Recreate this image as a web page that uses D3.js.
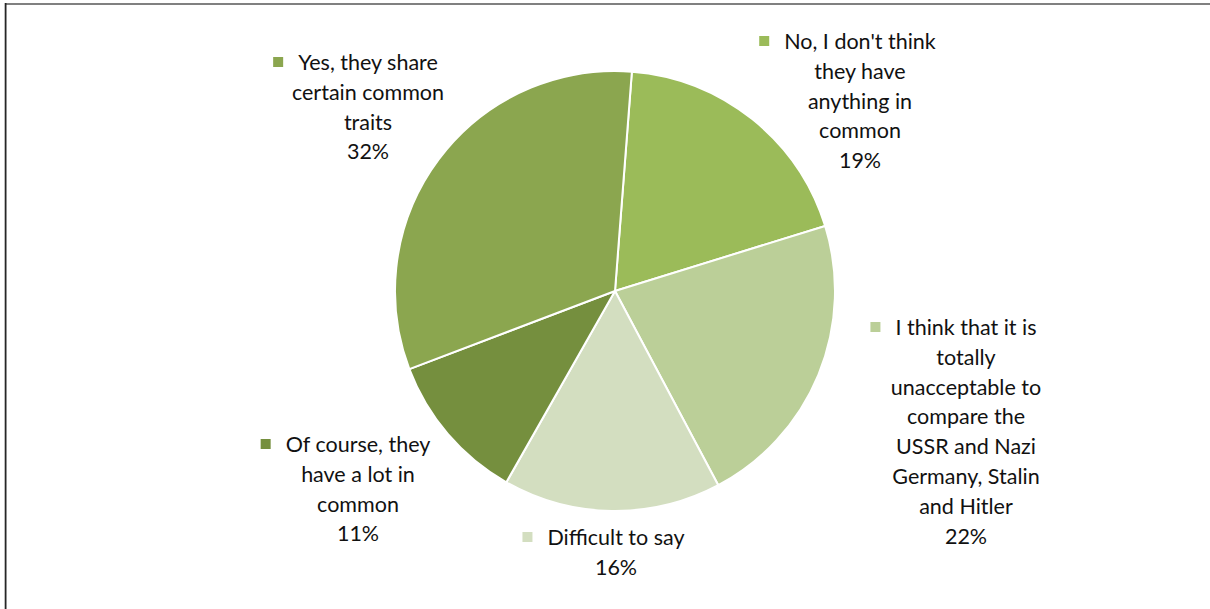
<!DOCTYPE html>
<html>
<head>
<meta charset="utf-8">
<script src="https://cdn.jsdelivr.net/npm/d3@7"></script>
<style>
  html, body { margin: 0; padding: 0; background: #fff; }
  svg { display: block; }
  text { font-family: "Lato", "Open Sans", sans-serif; fill: #111; }
</style>
</head>
<body>
<svg id="chart" width="1210" height="609"></svg>
<script>
// Survey answers, clockwise from the top of the pie
const categories = [
  "No, I don't think they have anything in common",
  "I think that it is totally unacceptable to compare the USSR and Nazi Germany, Stalin and Hitler",
  "Difficult to say",
  "Of course, they have a lot in common",
  "Yes, they share certain common traits"
];
const values = [19, 22, 16, 11, 32];
const labelLines = [
  ["No, I don't think", "they have", "anything in", "common"],
  ["I think that it is", "totally", "unacceptable to", "compare the", "USSR and Nazi", "Germany, Stalin", "and Hitler"],
  ["Difficult to say"],
  ["Of course, they", "have a lot in", "common"],
  ["Yes, they share", "certain common", "traits"]
];
const colors = ["#9bbb59", "#bbcf98", "#d3dec0", "#758f3e", "#8ba64f"];

// Label block placement: centre x and first baseline
const labelAnchor = [
  { x: 860, y: 49 },
  { x: 966, y: 335 },
  { x: 616, y: 545 },
  { x: 358, y: 452 },
  { x: 368, y: 70 }
];

const svg = d3.select("#chart");
const W = 1210, H = 609;
const cx = 615, cy = 291, R = 220;
const lineH = 29.8;

// chart frame (top and left edges)
svg.append("rect").attr("x", 4).attr("y", 3).attr("width", W - 4).attr("height", 2).attr("fill", "#808080");
svg.append("rect").attr("x", 4).attr("y", 3).attr("width", 1).attr("height", H - 3).attr("fill", "#bdbdbd");
svg.append("rect").attr("x", 5).attr("y", 3).attr("width", 1.5).attr("height", H - 3).attr("fill", "#262626");

const pie = d3.pie()
  .value(d => d)
  .sort(null)
  .startAngle(4.4 * Math.PI / 180)
  .endAngle((4.4 + 360) * Math.PI / 180);
const arc = d3.arc().innerRadius(0).outerRadius(R);
const arcs = pie(values);

const g = svg.append("g").attr("transform", `translate(${cx},${cy})`);
g.selectAll("path.slice")
  .data(arcs)
  .join("path")
  .attr("class", "slice")
  .attr("d", arc)
  .attr("fill", (d, i) => colors[i])
  .attr("stroke", "#fff")
  .attr("stroke-width", 2)
  .attr("stroke-linejoin", "round");

// data labels: legend key, wrapped category name, percentage
const fmt = d => Math.round(d) + "%";
arcs.forEach((a, i) => {
  const anc = labelAnchor[i];
  const lines = labelLines[i].concat([fmt(values[i])]);
  const lg = svg.append("g");
  const t = lg.append("text")
    .attr("text-anchor", "middle")
    .attr("font-size", 21.5);
  lines.forEach((ln, k) => {
    t.append("tspan")
      .attr("x", anc.x)
      .attr("y", anc.y + k * lineH)
      .text(ln);
  });
  const first = t.select("tspan").node();
  const w = first.getComputedTextLength();
  const left = anc.x - w / 2;
  lg.append("rect")
    .attr("x", left - 25)
    .attr("y", anc.y - 13)
    .attr("width", 10)
    .attr("height", 10)
    .attr("fill", colors[i]);
});
</script>
</body>
</html>
